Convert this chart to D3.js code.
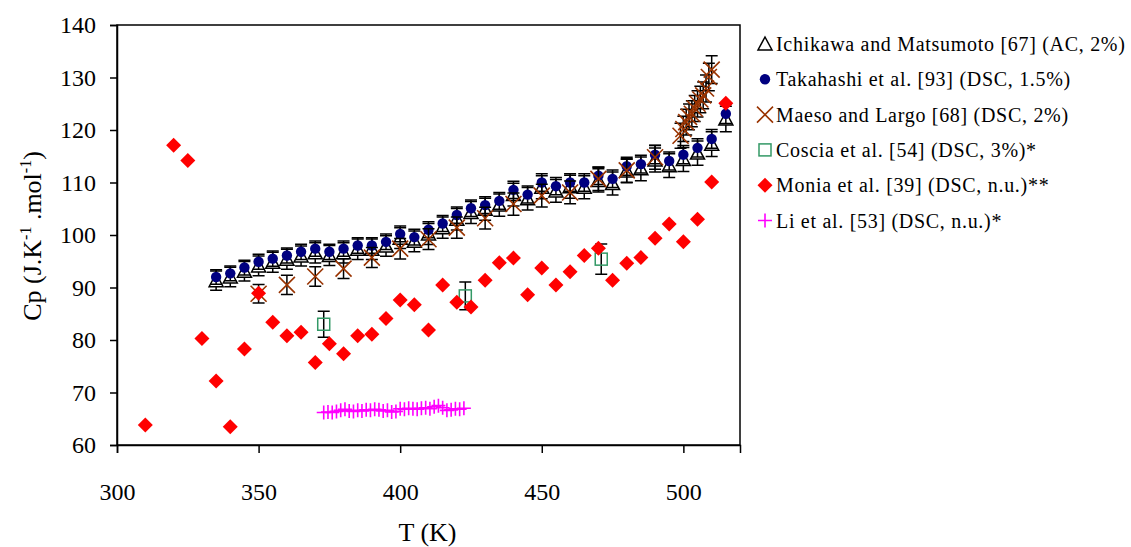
<!DOCTYPE html>
<html>
<head>
<meta charset="utf-8">
<script src="https://cdn.jsdelivr.net/npm/d3@7"></script>
<style>
  html, body { margin: 0; padding: 0; background: #fff; }
  svg { display: block; }
  text { font-family: "Liberation Serif", "Times New Roman", serif; fill: #000; }
</style>
</head>
<body>
<svg id="chart" width="1131" height="547"></svg>
<script>
// Heat capacity of the compound vs temperature, several literature sources.
const xTicks = [300, 350, 400, 450, 500];
const yTicks = [60, 70, 80, 90, 100, 110, 120, 130, 140];

// Ichikawa and Matsumoto [67] (AC, 2%)
const ichikawaT  = [335, 340, 345, 350, 355, 360, 365, 370, 375, 380, 385, 390, 395, 400, 405, 410, 415, 420, 425, 430, 435, 440, 445, 450, 455, 460, 465, 470, 475, 480, 485, 490, 495, 500, 505, 510, 515];
const ichikawaCp = [91.3, 92.0, 93.1, 94.1, 94.8, 95.4, 96.0, 96.6, 96.1, 96.6, 97.3, 97.3, 97.9, 99.4, 98.8, 100.2, 101.4, 103.0, 104.3, 104.9, 105.7, 107.7, 106.9, 109.1, 108.4, 109.2, 109.1, 110.4, 109.8, 112.2, 112.6, 114.3, 113.2, 114.4, 115.6, 117.3, 122.1];

// Takahashi et al. [93] (DSC, 1.5%)
const takahashiT  = [335, 340, 345, 350, 355, 360, 365, 370, 375, 380, 385, 390, 395, 400, 405, 410, 415, 420, 425, 430, 435, 440, 445, 450, 455, 460, 465, 470, 475, 480, 485, 490, 495, 500, 505, 510, 515];
const takahashiCp = [92.0, 92.7, 93.8, 94.9, 95.5, 96.1, 96.8, 97.4, 96.8, 97.4, 98.0, 98.0, 98.7, 100.2, 99.6, 101.0, 102.2, 103.8, 105.1, 105.7, 106.5, 108.6, 107.7, 110.0, 109.3, 110.0, 110.0, 111.3, 110.7, 113.1, 113.5, 115.3, 114.1, 115.3, 116.6, 118.3, 123.1];

// Maeso and Largo [68] (DSC, 2%)
const maesoT  = [350, 360, 370, 380, 390, 400, 410, 420, 430, 440, 450, 460, 470, 480, 490, 499, 500, 501, 502, 503, 504, 505, 506, 507, 508, 509, 510];
const maesoCp = [88.8, 90.5, 92.1, 93.6, 95.7, 97.4, 99.2, 101.4, 103.2, 105.9, 107.5, 108.1, 110.7, 112.3, 114.8, 118.9, 120.2, 121.5, 122.5, 123.1, 124.1, 125.0, 125.8, 126.6, 127.9, 130.1, 131.5];

// Coscia et al. [54] (DSC, 3%)*
const cosciaT  = [373, 423, 471];
const cosciaCp = [83.0, 88.4, 95.4];

// Monia et al. [39] (DSC, n.u.)**
const moniaT  = [310, 320, 325, 330, 335, 340, 345, 350, 355, 360, 365, 370, 375, 380, 385, 390, 395, 400, 405, 410, 415, 420, 425, 430, 435, 440, 445, 450, 455, 460, 465, 470, 475, 480, 485, 490, 495, 500, 505, 510, 515];
const moniaCp = [63.8, 117.1, 114.2, 80.3, 72.2, 63.5, 78.3, 88.9, 83.4, 80.8, 81.5, 75.7, 79.3, 77.4, 80.8, 81.1, 84.1, 87.6, 86.7, 81.9, 90.5, 87.2, 86.3, 91.4, 94.7, 95.6, 88.6, 93.7, 90.5, 93.0, 96.1, 97.5, 91.4, 94.6, 95.7, 99.4, 102.1, 98.7, 103.0, 110.1, 125.1];

// Li et al. [53] (DSC, n.u.)*
const liT  = [373, 374.5, 376, 377.5, 379, 380.5, 382, 383.5, 385, 386.5, 388, 389.5, 391, 392.5, 394, 395.5, 397, 398.5, 400, 401.5, 403, 404.5, 406, 407.5, 409, 410.5, 412, 413.5, 415, 416.5, 418, 419.5, 421, 422.5];
const liCp = [66.2, 66.3, 66.2, 66.4, 66.6, 66.8, 66.5, 66.4, 66.6, 66.5, 66.7, 66.6, 66.8, 66.7, 66.5, 66.6, 66.3, 66.4, 66.9, 66.8, 67.0, 66.9, 66.8, 67.0, 67.1, 66.9, 67.3, 67.5, 67.1, 66.6, 66.7, 66.9, 66.8, 67.0];

const legendLabels = [
  "Ichikawa and Matsumoto [67] (AC, 2%)",
  "Takahashi et al. [93] (DSC, 1.5%)",
  "Maeso and Largo [68] (DSC, 2%)",
  "Coscia et al. [54] (DSC, 3%)*",
  "Monia et al. [39] (DSC, n.u.)**",
  "Li et al. [53] (DSC, n.u.)*"
];

const serif = '"Liberation Serif", "Times New Roman", serif';
const svg = d3.select("#chart");
const plot = { left: 117, right: 740, top: 25, bottom: 445 };

const x = d3.scaleLinear().domain([300, 520]).range([plot.left, plot.right]);
const y = d3.scaleLinear().domain([60, 140]).range([plot.bottom, plot.top]);

// Frame
svg.append("rect")
  .attr("x", plot.left).attr("y", plot.top)
  .attr("width", plot.right - plot.left).attr("height", plot.bottom - plot.top)
  .attr("fill", "none").attr("stroke", "#000").attr("stroke-width", 1.5);

// Axes
const xAxis = svg.append("g")
  .attr("transform", `translate(0,${plot.bottom})`)
  .call(d3.axisBottom(x).tickValues(xTicks).tickSize(8).tickPadding(30).tickFormat(d3.format("d")));
const yAxis = svg.append("g")
  .attr("transform", `translate(${plot.left},0)`)
  .call(d3.axisLeft(y).tickValues(yTicks).tickSize(7).tickPadding(14).tickFormat(d3.format("d")));
[xAxis, yAxis].forEach(g => {
  g.attr("font-family", serif).attr("font-size", 24);
  g.select(".domain").attr("stroke", "#000").attr("stroke-width", 1.5);
  g.selectAll(".tick line").attr("stroke", "#000").attr("stroke-width", 1.5);
  g.selectAll(".tick text")
    .style("font-family", serif)
    .style("font-size", "24px").attr("fill", "#000");
});

// Axis titles
svg.append("text")
  .attr("x", (plot.left + plot.right) / 2 - 1).attr("y", 541)
  .attr("text-anchor", "middle").style("font-size", "26px")
  .text("T (K)");

const yTitle = svg.append("text")
  .attr("transform", `translate(41,236) rotate(-90)`)
  .attr("text-anchor", "middle").style("font-size", "26px");
yTitle.append("tspan").text("Cp (J.K");
yTitle.append("tspan").attr("dy", -10).style("font-size", "16px").text("-1");
yTitle.append("tspan").attr("dy", 10).text(" .mol");
yTitle.append("tspan").attr("dy", -10).style("font-size", "16px").text("-1");
yTitle.append("tspan").attr("dy", 10).text(")");

// Marker drawing helpers
const markerStyles = [
  { kind: "triangle", color: "#000" },
  { kind: "circle",   color: "#000080" },
  { kind: "xcross",   color: "#993300" },
  { kind: "square",   color: "#339966" },
  { kind: "diamond",  color: "#FF0000" },
  { kind: "plus",     color: "#FF00FF" }
];

function drawMarker(g, kind, color, cx, cy) {
  switch (kind) {
    case "triangle":
      g.append("path")
        .attr("d", `M${cx},${cy - 7}L${cx + 7},${cy + 6}L${cx - 7},${cy + 6}Z`)
        .attr("fill", "#fff").attr("stroke", color).attr("stroke-width", 1.5);
      break;
    case "circle":
      g.append("circle").attr("cx", cx).attr("cy", cy).attr("r", 5.2).attr("fill", color);
      break;
    case "xcross":
      g.append("path")
        .attr("d", `M${cx - 8},${cy - 8}L${cx + 8},${cy + 8}M${cx - 8},${cy + 8}L${cx + 8},${cy - 8}`)
        .attr("stroke", color).attr("stroke-width", 1.6).attr("fill", "none");
      break;
    case "square":
      g.append("rect").attr("x", cx - 6).attr("y", cy - 6).attr("width", 12).attr("height", 12)
        .attr("fill", "none").attr("stroke", color).attr("stroke-width", 1.5);
      break;
    case "diamond":
      g.append("path")
        .attr("d", `M${cx},${cy - 7.5}L${cx + 7.5},${cy}L${cx},${cy + 7.5}L${cx - 7.5},${cy}Z`)
        .attr("fill", color);
      break;
    case "plus":
      g.append("path")
        .attr("d", `M${cx - 7},${cy}L${cx + 7},${cy}M${cx},${cy - 7}L${cx},${cy + 7}`)
        .attr("stroke", color).attr("stroke-width", 1.6).attr("fill", "none");
      break;
  }
}

// Vertical error bars with caps, relative uncertainty
function drawErrorBars(g, Ts, Cps, rel) {
  Ts.forEach((t, i) => {
    const cx = x(t);
    const hi = y(Cps[i] * (1 + rel)), lo = y(Cps[i] * (1 - rel));
    g.append("path")
      .attr("d", `M${cx},${hi}L${cx},${lo}M${cx - 6},${hi}L${cx + 6},${hi}M${cx - 6},${lo}L${cx + 6},${lo}`)
      .attr("stroke", "#000").attr("stroke-width", 1.5).attr("fill", "none");
  });
}

function drawSeries(Ts, Cps, style, rel) {
  const g = svg.append("g");
  if (rel) drawErrorBars(g, Ts, Cps, rel);
  Ts.forEach((t, i) => drawMarker(g, style.kind, style.color, x(t), y(Cps[i])));
}

drawSeries(ichikawaT, ichikawaCp, markerStyles[0], 0.02);
drawSeries(takahashiT, takahashiCp, markerStyles[1], 0.015);
drawSeries(maesoT, maesoCp, markerStyles[2], 0.02);
drawSeries(cosciaT, cosciaCp, markerStyles[3], 0.03);
drawSeries(moniaT, moniaCp, markerStyles[4], 0);
drawSeries(liT, liCp, markerStyles[5], 0);

// Legend
const legend = svg.append("g");
legendLabels.forEach((label, i) => {
  const cy = 44 + i * 35.3;
  drawMarker(legend, markerStyles[i].kind, markerStyles[i].color, 765, cy);
  legend.append("text")
    .attr("x", 776).attr("y", cy + 7)
    .style("font-size", "20px")
    .style("letter-spacing", "0.7px")
    .text(label);
});
</script>
</body>
</html>
